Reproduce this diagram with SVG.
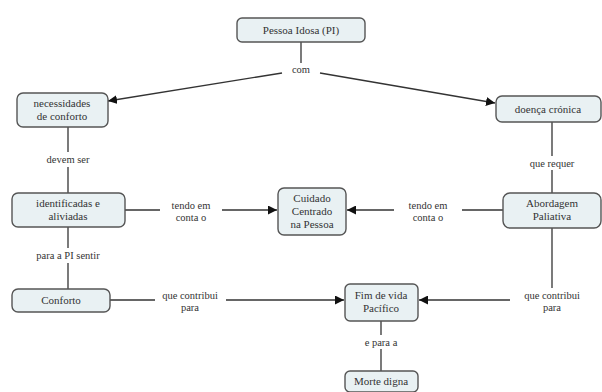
<svg xmlns="http://www.w3.org/2000/svg" width="602" height="392" viewBox="0 0 602 392">
<style>
.n rect{fill:#e9f1f3;stroke:#555;stroke-width:1.4}
.n text{font-size:11px;fill:#333;text-anchor:middle}
.l{font-size:10.5px;fill:#333;text-anchor:middle}
.c path{fill:none;stroke:#333;stroke-width:1.3}
</style>
<defs>
<marker id="a" viewBox="0 0 10 10" refX="10" refY="5" markerWidth="9" markerHeight="9" markerUnits="userSpaceOnUse" orient="auto"><path d="M0,0L10,5L0,10z" fill="#111"/></marker>
</defs>
<rect width="602" height="392" fill="#fff"/>
<g class="c">
<path d="M301,42V63"/>
<path d="M282,73L108,101" marker-end="url(#a)"/>
<path d="M320,73L495,103" marker-end="url(#a)"/>
<path d="M68,127V152"/>
<path d="M68,167V193"/>
<path d="M68,227V248"/>
<path d="M68,263V289"/>
<path d="M552,122V156"/>
<path d="M552,170V193"/>
<path d="M552,228V288"/>
<path d="M125,210H160"/>
<path d="M222,210H277" marker-end="url(#a)"/>
<path d="M503,210H462"/>
<path d="M394,210H347" marker-end="url(#a)"/>
<path d="M110,300H155"/>
<path d="M226,300H344" marker-end="url(#a)"/>
<path d="M510,300H419" marker-end="url(#a)"/>
<path d="M381,321V335"/>
<path d="M381,349V371"/>
</g>
<g font-family="Liberation Serif, serif">
<text class="l" x="301" y="73">com</text>
<text class="l" x="68" y="163">devem ser</text>
<text class="l" x="552" y="167">que requer</text>
<text class="l" x="68" y="259">para a PI sentir</text>
<text class="l"><tspan x="191" y="209">tendo em</tspan><tspan x="191" y="221">conta o</tspan></text>
<text class="l"><tspan x="428" y="209">tendo em</tspan><tspan x="428" y="221">conta o</tspan></text>
<text class="l"><tspan x="190" y="299">que contribui</tspan><tspan x="190" y="311">para</tspan></text>
<text class="l"><tspan x="552" y="299">que contribui</tspan><tspan x="552" y="311">para</tspan></text>
<text class="l" x="381" y="346">e para a</text>
<g id="pessoa" class="n"><rect x="237" y="18" width="128" height="24" rx="5"/><text x="301" y="34">Pessoa Idosa (PI)</text></g>
<g id="necessidades" class="n"><rect x="17" y="93" width="91" height="34" rx="6"/><text x="62" y="107">necessidades</text><text x="62" y="120">de conforto</text></g>
<g id="doenca" class="n"><rect x="496" y="96" width="105" height="26" rx="6"/><text x="548" y="113">doença crónica</text></g>
<g id="identificadas" class="n"><rect x="12" y="193" width="113" height="34" rx="6"/><text x="68" y="207">identificadas e</text><text x="68" y="220">aliviadas</text></g>
<g id="cuidado" class="n"><rect x="278" y="188" width="68" height="47" rx="6"/><text x="312" y="202">Cuidado</text><text x="312" y="215">Centrado</text><text x="312" y="228">na Pessoa</text></g>
<g id="abordagem" class="n"><rect x="503" y="193" width="98" height="35" rx="7"/><text x="552" y="207">Abordagem</text><text x="552" y="220">Paliativa</text></g>
<g id="conforto" class="n"><rect x="12" y="289" width="98" height="23" rx="6"/><text x="61" y="304">Conforto</text></g>
<g id="fim" class="n"><rect x="345" y="284" width="73" height="37" rx="5"/><text x="381" y="299">Fim de vida</text><text x="381" y="312">Pacífico</text></g>
<g id="morte" class="n"><rect x="345" y="371" width="73" height="21" rx="5"/><text x="381" y="385">Morte digna</text></g>
</g>
</svg>
